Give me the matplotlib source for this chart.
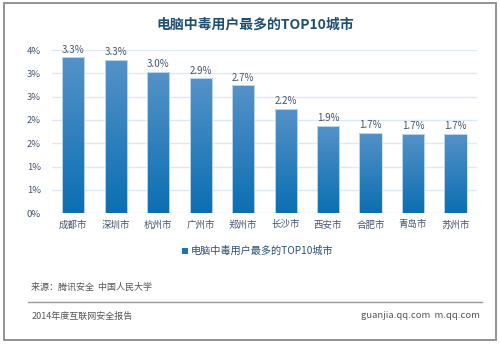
import numpy as np
import matplotlib.pyplot as plt
from matplotlib.colors import LinearSegmentedColormap
from matplotlib.patches import Rectangle

plt.rcParams['font.family'] = ['Noto Sans CJK SC', 'DejaVu Sans']

cities = ["成都市", "深圳市", "杭州市", "广州市", "郑州市", "长沙市", "西安市", "合肥市", "青岛市", "苏州市"]
share = [3.34, 3.29, 3.03, 2.89, 2.74, 2.24, 1.88, 1.73, 1.70, 1.70]
yticks = [0, 0.5, 1, 1.5, 2, 2.5, 3, 3.5]
title = "电脑中毒用户最多的TOP10城市"

txt = "#44546A"
fig = plt.figure(figsize=(5, 3.45), dpi=100)
fig.patch.set_facecolor("white")

# outer frame
fig.add_artist(Rectangle((4/500, 1-340/345), 492/500, 337/345, transform=fig.transFigure,
                         fill=False, edgecolor="#8a8a8a", linewidth=1.3))

ax = fig.add_axes([52/500, 1-213.3/345, 424.7/500, 163.3/345])
x = np.arange(len(cities))
bars = ax.bar(x, share, width=0.52, color="none", edgecolor="#cfe3f2", linewidth=0.6, zorder=3)

# vertical gradient inside each bar
cmap = LinearSegmentedColormap.from_list("g", ["#0b6fb2", "#5592c8"])
grad = np.linspace(0, 1, 256).reshape(-1, 1)
for b in bars:
    x0, w, h = b.get_x(), b.get_width(), b.get_height()
    im = ax.imshow(grad, cmap=cmap, origin="lower", aspect="auto",
                   extent=(x0, x0 + w, 0, h), zorder=2)
    im.set_clip_path(b)

for xi, v in zip(x, share):
    ax.text(xi, v + 0.06, f"{v:.1f}%", ha="center", va="bottom", fontsize=7, color=txt)

ax.set_xlim(-0.5, len(cities) - 0.5)
ax.set_ylim(0, 3.5)
ax.set_yticks(yticks)
ax.set_yticklabels([f"{int(t + 0.5)}%" for t in yticks])
ax.set_xticks(x)
ax.set_xticklabels(cities)
ax.tick_params(axis="both", length=0, labelsize=6.8, labelcolor=txt)
ax.tick_params(axis="y", pad=8)
ax.tick_params(axis="x", pad=5)
ax.grid(axis="y", color="#dde9f5", linewidth=1.0, zorder=0)
for s in ax.spines.values():
    s.set_visible(False)
ax.set_axisbelow(True)

fig.text(0.51, 1-25/345, title, ha="center", va="center", fontsize=10, fontweight="bold", color="#1f4e6e")

# legend
fig.add_artist(Rectangle((182/500, 1-254/345), 6/500, 6/345, transform=fig.transFigure,
                         facecolor="#1a75b8", edgecolor="none"))
fig.text(191/500, 1-250.5/345, title, ha="left", va="center", fontsize=7.3, color="#2a4f75")

# footer
fig.text(31/500, 1-287/345, "来源：腾讯安全  中国人民大学", ha="left", va="center", fontsize=6.5, color="#555555")
fig.add_artist(plt.Line2D([28/500, 482/500], [1-302/345, 1-302/345], transform=fig.transFigure,
                          color="#9a9a9a", linewidth=1.0))
fig.text(32/500, 1-316/345, "2014年度互联网安全报告", ha="left", va="center", fontsize=6.5, color="#555555")
fig.text(480/500, 1-316/345, "guanjia.qq.com  m.qq.com", ha="right", va="center", fontsize=6.8, color="#555555")

fig.savefig("out.png", dpi=100)
